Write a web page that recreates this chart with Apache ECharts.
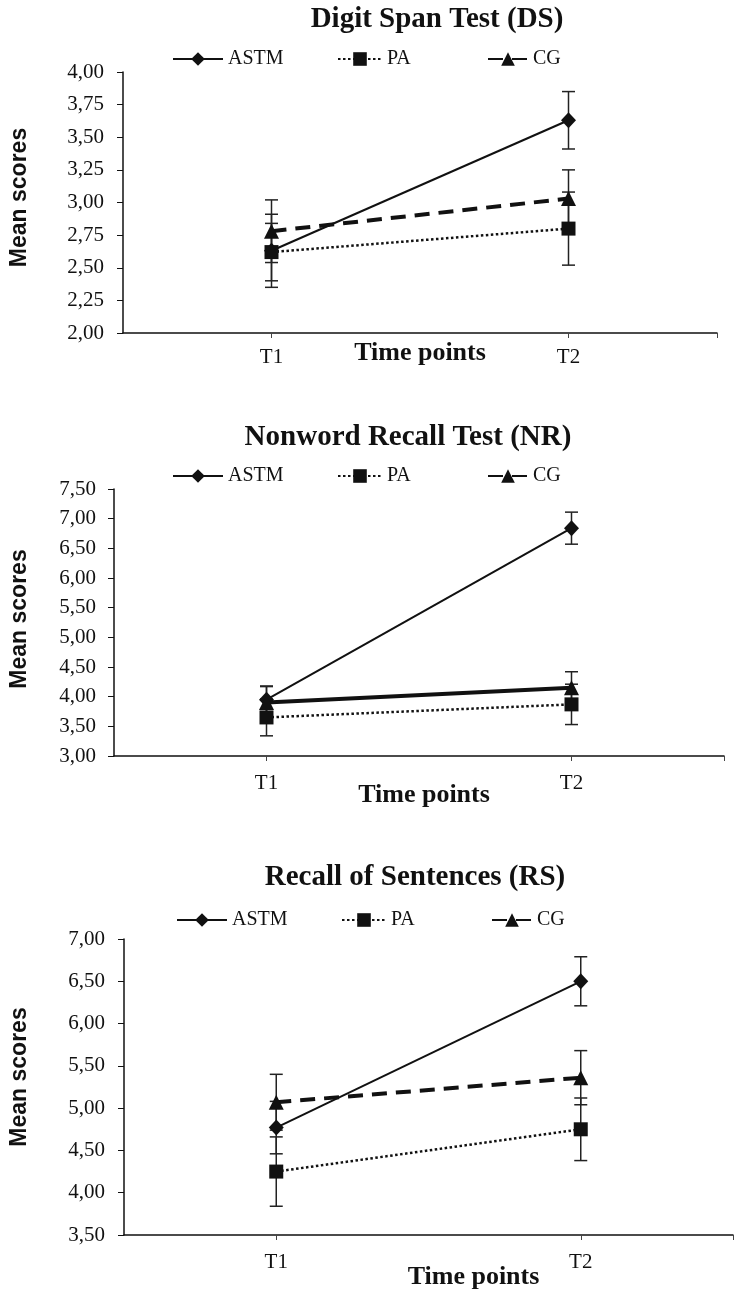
<!DOCTYPE html>
<html>
<head>
<meta charset="utf-8">
<script src="https://cdn.jsdelivr.net/npm/echarts@6/dist/echarts.min.js"></script>
<style>
  html, body { margin: 0; padding: 0; background: #fff; }
  #main { width: 739px; height: 1300px; }
</style>
</head>
<body>
<div id="main"></div>
<script>
// groups and time points
var groups = ['ASTM', 'PA', 'CG'];
var timeLabels = ['T1', 'T2'];
var timeX = [1, 3];

// Digit Span Test (DS) - mean per group at [T1, T2], and error bar size
var dsMeans = [[2.63, 3.63], [2.62, 2.80], [2.78, 3.03]];
var dsErrors = [[0.28, 0.22], [0.22, 0.28], [0.24, 0.22]];

// Nonword Recall Test (NR)
var nrMeans = [[3.95, 6.84], [3.65, 3.87], [3.90, 4.15]];
var nrErrors = [[0.23, 0.27], [0.31, 0.34], [0.27, 0.27]];

// Recall of Sentences (RS)
var rsMeans = [[4.77, 6.50], [4.25, 4.75], [5.07, 5.36]];
var rsErrors = [[0.31, 0.29], [0.41, 0.37], [0.33, 0.32]];

var serif = '"Liberation Serif", "DejaVu Serif", serif';
var sans = '"Liberation Sans", Arial, sans-serif';
var ink = '#111';

var panels = [
  { title: 'Digit Span Test (DS)', means: dsMeans, errors: dsErrors, min: 2, max: 4, step: 0.25,
    grid: { left: 117, top: 72, width: 600, height: 261 },
    titleX: 432, titleY: 0, legendY: 49, legendShift: 0,
    yNameGap: 92, yNameShift: 10, yLabelMargin: 19,
    xNameGap: 7, xNameShift: 0, xLabelMargin: 14, cgSolid: false },
  { title: 'Nonword Recall Test (NR)', means: nrMeans, errors: nrErrors, min: 3, max: 7.5, step: 0.5,
    grid: { left: 108, top: 489, width: 616, height: 267 },
    titleX: 403, titleY: 418, legendY: 466, legendShift: 0,
    yNameGap: 83, yNameShift: 7, yLabelMargin: 18,
    xNameGap: 26, xNameShift: 10, xLabelMargin: 17, cgSolid: true },
  { title: 'Recall of Sentences (RS)', means: rsMeans, errors: rsErrors, min: 3.5, max: 7, step: 0.5,
    grid: { left: 119, top: 939, width: 614, height: 296 },
    titleX: 410, titleY: 858, legendY: 910, legendShift: 4,
    yNameGap: 93, yNameShift: 20, yLabelMargin: 19,
    xNameGap: 29, xNameShift: 90, xLabelMargin: 17, cgSolid: false }
];

// legend placement per group
var legendLeft = [172, 337, 487];
var legendWidth = [50, 44, 40];

var symbols = ['diamond', 'rect', 'triangle'];
var symbolSizes = [[15, 16], 14, 15];

function lineStyleFor(k, p) {
  if (k === 0) return { color: ink, width: 2, type: 'solid' };
  if (k === 1) return { color: ink, width: 2.5, type: [2.5, 2.5] };
  if (p.cgSolid) return { color: ink, width: 4, type: 'solid' };
  return { color: ink, width: 4, type: [15, 9] };
}

function errorBar(params, api) {
  var x = api.value(0), lo = api.value(1), hi = api.value(2);
  var a = api.coord([x, lo]), b = api.coord([x, hi]);
  var w = 6.5;
  var st = { stroke: '#222', lineWidth: 1.5 };
  return {
    type: 'group',
    children: [
      { type: 'line', shape: { x1: a[0], y1: a[1], x2: b[0], y2: b[1] }, style: st },
      { type: 'line', shape: { x1: a[0] - w, y1: a[1], x2: a[0] + w, y2: a[1] }, style: st },
      { type: 'line', shape: { x1: b[0] - w, y1: b[1], x2: b[0] + w, y2: b[1] }, style: st }
    ]
  };
}

var option = {
  animation: false,
  backgroundColor: '#fff',
  title: [], legend: [], grid: [], xAxis: [], yAxis: [], series: []
};

panels.forEach(function (p, i) {
  option.title.push({
    text: p.title, left: p.titleX, top: p.titleY, textAlign: 'center',
    textStyle: { fontFamily: serif, fontWeight: 'bold', fontSize: 29, color: ink }
  });

  groups.forEach(function (g, k) {
    option.legend.push({
      data: [g], left: legendLeft[k] + p.legendShift, top: p.legendY, padding: 0,
      itemWidth: legendWidth[k], itemHeight: 17, selectedMode: false,
      textStyle: { fontFamily: serif, fontSize: 20, color: ink }
    });
  });

  option.grid.push(p.grid);

  option.xAxis.push({
    type: 'value', gridIndex: i, min: 0, max: 4, interval: 1,
    name: 'Time points', nameLocation: 'middle', nameGap: p.xNameGap, nameMoveOverlap: false,
    nameTextStyle: { fontFamily: serif, fontWeight: 'bold', fontSize: 26, color: ink, padding: [0, 0, 0, p.xNameShift] },
    axisLine: { lineStyle: { color: ink, width: 1.5 } },
    axisTick: { show: true, length: 5, customValues: [1, 3, 4], lineStyle: { color: '#444' } },
    axisLabel: {
      margin: p.xLabelMargin, fontFamily: serif, fontSize: 21, color: ink,
      formatter: function (v) { var t = timeX.indexOf(v); return t < 0 ? '' : timeLabels[t]; }
    },
    splitLine: { show: false }
  });

  option.yAxis.push({
    type: 'value', gridIndex: i, min: p.min, max: p.max, interval: p.step,
    name: 'Mean scores', nameLocation: 'middle', nameGap: p.yNameGap, nameMoveOverlap: false,
    nameTextStyle: { fontFamily: sans, fontWeight: 'bold', fontSize: 23, color: ink, padding: [0, 0, 0, p.yNameShift] },
    axisLine: { show: true, lineStyle: { color: ink, width: 1.5 } },
    axisTick: { show: true, length: 6, lineStyle: { color: ink } },
    axisLabel: {
      margin: p.yLabelMargin, fontFamily: serif, fontSize: 21, color: ink,
      formatter: function (v) { return v.toFixed(2).replace('.', ','); }
    },
    splitLine: { show: false }
  });

  var bars = [];
  groups.forEach(function (g, k) {
    timeX.forEach(function (x, t) {
      var m = p.means[k][t], e = p.errors[k][t];
      bars.push([x, m - e, m + e]);
    });
  });
  option.series.push({
    type: 'custom', name: 'error', xAxisIndex: i, yAxisIndex: i,
    renderItem: errorBar, encode: { x: 0, y: [1, 2] }, data: bars, z: 1, silent: true
  });

  groups.forEach(function (g, k) {
    option.series.push({
      type: 'line', name: g, xAxisIndex: i, yAxisIndex: i,
      data: timeX.map(function (x, t) { return [x, p.means[k][t]]; }),
      symbol: symbols[k], symbolSize: symbolSizes[k], showSymbol: true,
      lineStyle: lineStyleFor(k, p),
      itemStyle: { color: ink, borderWidth: 0 },
      z: 3
    });
  });
});

var chart = echarts.init(document.getElementById('main'));
chart.setOption(option);
</script>
</body>
</html>
